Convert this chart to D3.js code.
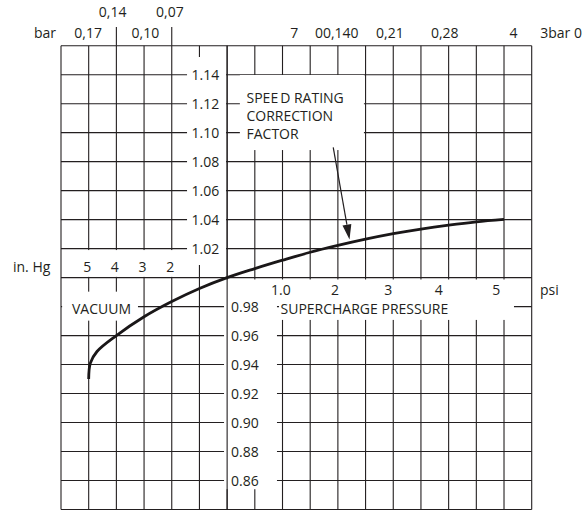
<!DOCTYPE html>
<html><head><meta charset="utf-8">
<script src="https://cdn.jsdelivr.net/npm/d3@7"></script>
<style>
body{margin:0;background:#fff}
text{font-family:"Open Sans",sans-serif;fill:#231f20;font-size:14px}
</style>
</head><body><svg id="c" width="587" height="512"></svg>
<script>
// ---- data ----
const pressurePsi      = [-2.5, -2.47, -2.35, -2.0, -1.5, -1.0, -0.5, 0.0, 0.5, 1.0, 1.5, 2.0, 2.5, 3.0, 3.5, 4.0, 4.5, 5.0];
const correctionFactor = [0.930, 0.941, 0.949, 0.960, 0.973, 0.9835, 0.9925, 1.000, 1.0062, 1.012, 1.0175, 1.0222, 1.0265, 1.0303, 1.0335, 1.0362, 1.0385, 1.0402];
const factorTicksUpper = [1.14, 1.12, 1.10, 1.08, 1.06, 1.04, 1.02];
const factorTicksLower = [0.98, 0.96, 0.94, 0.92, 0.90, 0.88, 0.86];
const vacuumInHgTicks  = [5, 4, 3, 2];
const psiTicks         = ["1.0", "2", "3", "4", "5"];
const psiTickAt        = [0.97, 1.95, 2.91, 3.82, 4.86];
const barVacLowerVals  = [0.17, 0.10];
const barVacUpperVals  = [0.14, 0.07];
const barPressLabels   = ["7", "00,140", "0,21", "0,28", "4", "3bar 0"];
const barPressAtPsi    = [1.21, 1.98, 2.94, 3.93, 5.17, 6.03];

const svg = d3.select("#c");
const ink = "#231f20";
const x = d3.scaleLinear().domain([-3, 5.5]).range([61, 531.7]);   // psi (vacuum: in.Hg / 2)
const y = d3.scaleLinear().domain([0.84, 1.16]).range([509.5, 45.7]);
const inHgToX = v => x(-v * 0.5);
const barToInHg = b => b * 29.53;

// grid
const gx = d3.range(0, 18).map(i => -3 + i * 0.5);
const gy = d3.range(0, 17).map(j => 0.84 + j * 0.02);
const grid = svg.append("g").attr("stroke", ink).attr("stroke-width", 1.1);
grid.selectAll("line.v").data(gx).join("line")
  .attr("x1", d => x(d)).attr("x2", d => x(d)).attr("y1", y(1.16)).attr("y2", y(0.84));
grid.selectAll("line.h").data(gy).join("line")
  .attr("y1", d => y(d)).attr("y2", d => y(d)).attr("x1", x(-3)).attr("x2", x(5.5));

// white label areas that interrupt the grid
const masks = [
  [-0.724, -0.02, 1.1522, 1.0087],   // upper factor labels
  [-0.056, 0.90, 0.9987, 0.854],     // lower factor labels
  [0.937, 5.18, 0.9987, 0.9708],     // psi / supercharge row
  [-2.98, -1.61, 0.9903, 0.9703],    // vacuum
  [-2.98, -0.58, 1.019, 1.0005],     // in. Hg row
  [0.23, 2.47, 1.1398, 1.088]        // annotation
];
svg.append("g").selectAll("rect").data(masks).join("rect")
  .attr("fill", "#fff")
  .attr("x", d => x(d[0])).attr("width", d => x(d[1]) - x(d[0]))
  .attr("y", d => y(d[2])).attr("height", d => y(d[3]) - y(d[2]));
// centre axis line
svg.append("line").attr("stroke", ink).attr("stroke-width", 1.1)
  .attr("x1", x(0)).attr("x2", x(0)).attr("y1", y(1.16)).attr("y2", y(0.84));

// top tick marks
svg.append("g").selectAll("line").data([4, 2]).join("line")
  .attr("stroke", ink).attr("stroke-width", 1.1)
  .attr("x1", d => inHgToX(d)).attr("x2", d => inHgToX(d)).attr("y1", 27).attr("y2", y(1.16));

// factor labels
const f2 = d3.format(".2f");
svg.append("g").selectAll("text").data(factorTicksUpper).join("text")
  .attr("x", 191.5).attr("y", d => y(d) + 5).text(f2);
svg.append("g").selectAll("text").data(factorTicksLower).join("text")
  .attr("x", 231).attr("y", d => y(d) + 5).text(f2);

// in. Hg labels
svg.append("g").selectAll("text").data(vacuumInHgTicks).join("text")
  .attr("text-anchor", "middle").attr("x", d => inHgToX(d) - 1.5).attr("y", 272).text(d => d);
svg.append("text").attr("x", 13).attr("y", 272).text("in. Hg");

// psi labels
svg.append("g").selectAll("text").data(psiTicks).join("text")
  .attr("text-anchor", "middle").attr("x", (d, i) => x(psiTickAt[i])).attr("y", 295)
  .text(d => d);
svg.append("text").attr("x", 540).attr("y", 295).text("psi");

// bar labels
svg.append("text").attr("x", 34).attr("y", 37.5).text("bar");
svg.append("g").selectAll("text").data(barVacLowerVals).join("text")
  .attr("text-anchor", "middle").attr("x", d => inHgToX(barToInHg(d))).attr("y", 37.5)
  .text(d => d3.format(".2f")(d).replace(".", ","));
svg.append("g").selectAll("text").data(barVacUpperVals).join("text")
  .attr("text-anchor", "middle").attr("x", d => inHgToX(barToInHg(d))).attr("y", 16.5)
  .text(d => d3.format(".2f")(d).replace(".", ","));
svg.append("g").selectAll("text").data(barPressLabels).join("text")
  .attr("text-anchor", "middle").attr("x", (d, i) => x(barPressAtPsi[i])).attr("y", 37.5).text(d => d);

// section labels
svg.append("text").attr("x", 72).attr("y", 313.5).text("VACUUM");
svg.append("text").attr("x", 280.5).attr("y", 313.5).text("SUPERCHARGE PRESSURE");
const ann = svg.append("text").attr("x", 246.5).attr("y", 102.5);
ann.append("tspan").text("SPEE");
ann.append("tspan").attr("dx", 2).text("D RATING");
svg.append("text").attr("x", 246.5).attr("y", 120.5).text("CORRECTION");
svg.append("text").attr("x", 246.5).attr("y", 138.5).text("FACTOR");

// curve
const pts = pressurePsi.map((p, i) => [p, correctionFactor[i]]);
svg.append("path").datum(pts)
  .attr("fill", "none").attr("stroke", "#1a1718").attr("stroke-width", 2.8)
  .attr("stroke-linecap", "butt")
  .attr("d", d3.line().x(d => x(d[0])).y(d => y(d[1])).curve(d3.curveCatmullRom.alpha(0.5)));

// arrow
const a0 = [x(1.916), y(1.0899)], a1 = [x(2.21), y(1.0263)];
const ang = Math.atan2(a1[1] - a0[1], a1[0] - a0[0]);
const hl = 15, hw = 4.5;
const bx = a1[0] - hl * Math.cos(ang), by = a1[1] - hl * Math.sin(ang);
svg.append("line").attr("stroke", ink).attr("stroke-width", 1.2)
  .attr("x1", a0[0]).attr("y1", a0[1]).attr("x2", bx).attr("y2", by);
svg.append("path").attr("fill", ink)
  .attr("d", `M${a1[0]},${a1[1]}L${bx - hw * Math.sin(ang)},${by + hw * Math.cos(ang)}L${bx + hw * Math.sin(ang)},${by - hw * Math.cos(ang)}Z`);
</script>
</body></html>
